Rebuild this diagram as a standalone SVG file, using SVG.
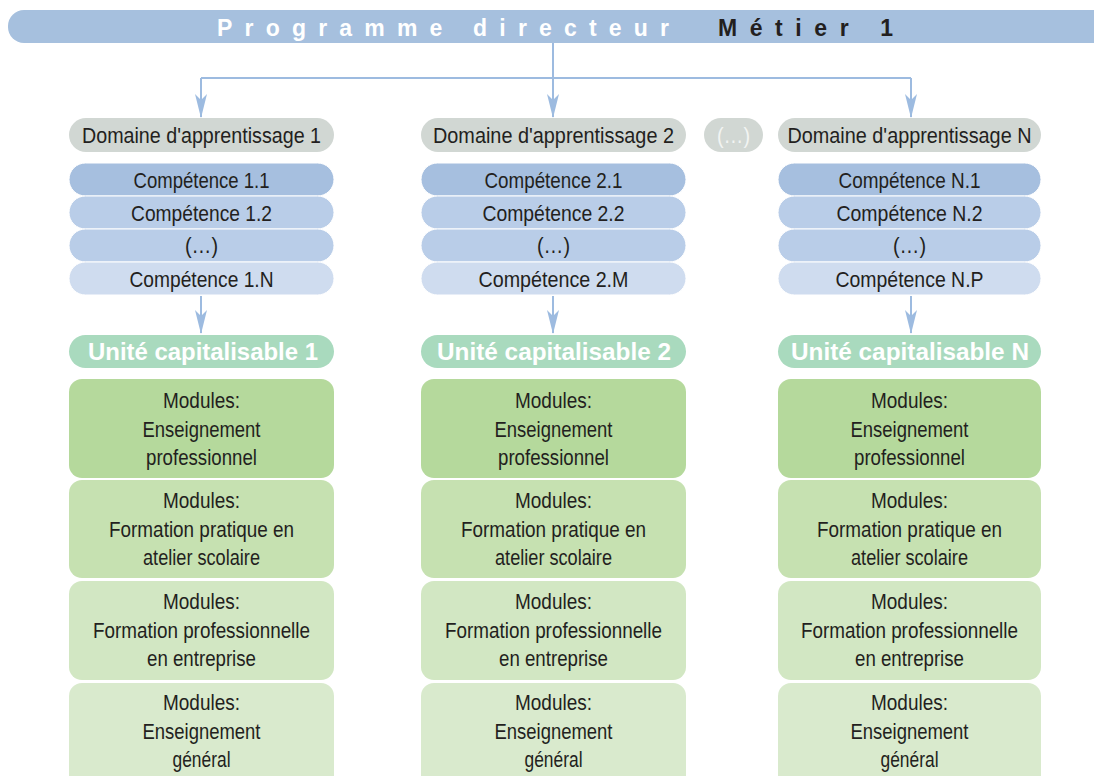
<svg xmlns="http://www.w3.org/2000/svg" width="1094" height="776" viewBox="0 0 1094 776">
<defs>
<style>
text{font-family:"Liberation Sans",sans-serif;fill:#231f20;text-anchor:middle;dominant-baseline:central;font-size:22px}
.dom{fill:#d1d7d3}
.c1{fill:#a6bfdf;stroke:#fff;stroke-width:1}
.c2{fill:#b9cde8;stroke:#fff;stroke-width:1}
.c4{fill:#cfdcef;stroke:#fff;stroke-width:1}
.uc{fill:#a9dabe}
.uct{font-weight:bold;font-size:24px;fill:#fff}
.m1{fill:#b5d99c}
.m2{fill:#c6e1b1}
.m3{fill:#d2e7c3}
.m4{fill:#d9eacd}
.ban{font-weight:bold;font-size:23px;text-anchor:start}
.conn{fill:none;stroke:#9dbbe0;stroke-width:2}
</style>
<marker id="ah" viewBox="0 0 24 12" refX="23" refY="6" markerWidth="24" markerHeight="12" markerUnits="userSpaceOnUse" orient="auto">
<path d="M0,0 L6,6 L0,12 L24,6 Z" fill="#9dbbe0"/>
</marker>
</defs>
<g id="banner">
<rect x="8" y="10" width="1100" height="33" rx="16" fill="#a6c0de"/>
<text class="ban" x="217" y="28" textLength="452" lengthAdjust="spacing" style="fill:#fff">Programme directeur</text>
<text class="ban" x="718" y="28" textLength="175" lengthAdjust="spacing" style="fill:#231f20">Métier 1</text>
</g>
<g id="connectors">
<path class="conn" d="M553,43 V78 M201,78 H911"/>
<path class="conn" d="M201,78 V117" marker-end="url(#ah)"/>
<path class="conn" d="M553,78 V117" marker-end="url(#ah)"/>
<path class="conn" d="M911,78 V117" marker-end="url(#ah)"/>
<path class="conn" d="M201,296 V333" marker-end="url(#ah)"/>
<path class="conn" d="M553,296 V333" marker-end="url(#ah)"/>
<path class="conn" d="M911,296 V333" marker-end="url(#ah)"/>
</g>
<g id="ellipsis-domain">
<rect x="704" y="118" width="59" height="34" rx="17" class="dom"/>
<text x="733.5" y="135" textLength="33" lengthAdjust="spacingAndGlyphs" style="fill:#f2f4f2">(…)</text>
</g>
<g id="col1">
<g id="dom1"><rect x="69" y="118" width="265" height="34" rx="17" class="dom"/><text x="201.5" y="135" textLength="239" lengthAdjust="spacingAndGlyphs">Domaine d'apprentissage 1</text></g>
<g id="c1-1"><rect x="69" y="163" width="265" height="33" rx="16.5" class="c1"/><text x="201.5" y="180" textLength="136" lengthAdjust="spacingAndGlyphs">Compétence 1.1</text></g>
<g id="c1-2"><rect x="69" y="196" width="265" height="33" rx="16.5" class="c2"/><text x="201.5" y="213" textLength="141" lengthAdjust="spacingAndGlyphs">Compétence 1.2</text></g>
<g id="c1-3"><rect x="69" y="229" width="265" height="33" rx="16.5" class="c2"/><text x="201.5" y="245" textLength="33" lengthAdjust="spacingAndGlyphs">(…)</text></g>
<g id="c1-4"><rect x="69" y="262" width="265" height="33" rx="16.5" class="c4"/><text x="201.5" y="279" textLength="144" lengthAdjust="spacingAndGlyphs">Compétence 1.N</text></g>
<g id="uc1"><rect x="69" y="335" width="265" height="33" rx="16.5" class="uc"/><text class="uct" x="203" y="351" textLength="230" lengthAdjust="spacingAndGlyphs">Unité capitalisable 1</text></g>
<g id="m1-1"><rect x="69" y="379" width="265" height="99" rx="13" class="m1"/><text x="201.5" y="400" textLength="77" lengthAdjust="spacingAndGlyphs">Modules:</text><text x="201.5" y="429" textLength="118" lengthAdjust="spacingAndGlyphs">Enseignement</text><text x="201.5" y="457" textLength="111" lengthAdjust="spacingAndGlyphs">professionnel</text></g>
<g id="m1-2"><rect x="69" y="480" width="265" height="98" rx="13" class="m2"/><text x="201.5" y="500" textLength="77" lengthAdjust="spacingAndGlyphs">Modules:</text><text x="201.5" y="529" textLength="185" lengthAdjust="spacingAndGlyphs">Formation pratique en</text><text x="201.5" y="557" textLength="117" lengthAdjust="spacingAndGlyphs">atelier scolaire</text></g>
<g id="m1-3"><rect x="69" y="581" width="265" height="99" rx="13" class="m3"/><text x="201.5" y="601" textLength="77" lengthAdjust="spacingAndGlyphs">Modules:</text><text x="201.5" y="630" textLength="217" lengthAdjust="spacingAndGlyphs">Formation professionnelle</text><text x="201.5" y="658" textLength="109" lengthAdjust="spacingAndGlyphs">en entreprise</text></g>
<g id="m1-4"><rect x="69" y="683" width="265" height="110" rx="13" class="m4"/><text x="201.5" y="702" textLength="77" lengthAdjust="spacingAndGlyphs">Modules:</text><text x="201.5" y="731" textLength="118" lengthAdjust="spacingAndGlyphs">Enseignement</text><text x="201.5" y="759" textLength="58" lengthAdjust="spacingAndGlyphs">général</text></g>
</g>
<g id="col2">
<g id="dom2"><rect x="421" y="118" width="265" height="34" rx="17" class="dom"/><text x="553.5" y="135" textLength="241" lengthAdjust="spacingAndGlyphs">Domaine d'apprentissage 2</text></g>
<g id="c2-1"><rect x="421" y="163" width="265" height="33" rx="16.5" class="c1"/><text x="553.5" y="180" textLength="138" lengthAdjust="spacingAndGlyphs">Compétence 2.1</text></g>
<g id="c2-2"><rect x="421" y="196" width="265" height="33" rx="16.5" class="c2"/><text x="553.5" y="213" textLength="142" lengthAdjust="spacingAndGlyphs">Compétence 2.2</text></g>
<g id="c2-3"><rect x="421" y="229" width="265" height="33" rx="16.5" class="c2"/><text x="553.5" y="245" textLength="33" lengthAdjust="spacingAndGlyphs">(…)</text></g>
<g id="c2-4"><rect x="421" y="262" width="265" height="33" rx="16.5" class="c4"/><text x="553.5" y="279" textLength="150" lengthAdjust="spacingAndGlyphs">Compétence 2.M</text></g>
<g id="uc2"><rect x="421" y="335" width="265" height="33" rx="16.5" class="uc"/><text class="uct" x="554" y="351" textLength="234" lengthAdjust="spacingAndGlyphs">Unité capitalisable 2</text></g>
<g id="m2-1"><rect x="421" y="379" width="265" height="99" rx="13" class="m1"/><text x="553.5" y="400" textLength="77" lengthAdjust="spacingAndGlyphs">Modules:</text><text x="553.5" y="429" textLength="118" lengthAdjust="spacingAndGlyphs">Enseignement</text><text x="553.5" y="457" textLength="111" lengthAdjust="spacingAndGlyphs">professionnel</text></g>
<g id="m2-2"><rect x="421" y="480" width="265" height="98" rx="13" class="m2"/><text x="553.5" y="500" textLength="77" lengthAdjust="spacingAndGlyphs">Modules:</text><text x="553.5" y="529" textLength="185" lengthAdjust="spacingAndGlyphs">Formation pratique en</text><text x="553.5" y="557" textLength="117" lengthAdjust="spacingAndGlyphs">atelier scolaire</text></g>
<g id="m2-3"><rect x="421" y="581" width="265" height="99" rx="13" class="m3"/><text x="553.5" y="601" textLength="77" lengthAdjust="spacingAndGlyphs">Modules:</text><text x="553.5" y="630" textLength="217" lengthAdjust="spacingAndGlyphs">Formation professionnelle</text><text x="553.5" y="658" textLength="109" lengthAdjust="spacingAndGlyphs">en entreprise</text></g>
<g id="m2-4"><rect x="421" y="683" width="265" height="110" rx="13" class="m4"/><text x="553.5" y="702" textLength="77" lengthAdjust="spacingAndGlyphs">Modules:</text><text x="553.5" y="731" textLength="118" lengthAdjust="spacingAndGlyphs">Enseignement</text><text x="553.5" y="759" textLength="58" lengthAdjust="spacingAndGlyphs">général</text></g>
</g>
<g id="col3">
<g id="dom3"><rect x="778" y="118" width="263" height="34" rx="17" class="dom"/><text x="909.5" y="135" textLength="244" lengthAdjust="spacingAndGlyphs">Domaine d'apprentissage N</text></g>
<g id="c3-1"><rect x="778" y="163" width="263" height="33" rx="16.5" class="c1"/><text x="909.5" y="180" textLength="142" lengthAdjust="spacingAndGlyphs">Compétence N.1</text></g>
<g id="c3-2"><rect x="778" y="196" width="263" height="33" rx="16.5" class="c2"/><text x="909.5" y="213" textLength="146" lengthAdjust="spacingAndGlyphs">Compétence N.2</text></g>
<g id="c3-3"><rect x="778" y="229" width="263" height="33" rx="16.5" class="c2"/><text x="909.5" y="245" textLength="33" lengthAdjust="spacingAndGlyphs">(…)</text></g>
<g id="c3-4"><rect x="778" y="262" width="263" height="33" rx="16.5" class="c4"/><text x="909.5" y="279" textLength="148" lengthAdjust="spacingAndGlyphs">Compétence N.P</text></g>
<g id="uc3"><rect x="778" y="335" width="263" height="33" rx="16.5" class="uc"/><text class="uct" x="910" y="351" textLength="238" lengthAdjust="spacingAndGlyphs">Unité capitalisable N</text></g>
<g id="m3-1"><rect x="778" y="379" width="263" height="99" rx="13" class="m1"/><text x="909.5" y="400" textLength="77" lengthAdjust="spacingAndGlyphs">Modules:</text><text x="909.5" y="429" textLength="118" lengthAdjust="spacingAndGlyphs">Enseignement</text><text x="909.5" y="457" textLength="111" lengthAdjust="spacingAndGlyphs">professionnel</text></g>
<g id="m3-2"><rect x="778" y="480" width="263" height="98" rx="13" class="m2"/><text x="909.5" y="500" textLength="77" lengthAdjust="spacingAndGlyphs">Modules:</text><text x="909.5" y="529" textLength="185" lengthAdjust="spacingAndGlyphs">Formation pratique en</text><text x="909.5" y="557" textLength="117" lengthAdjust="spacingAndGlyphs">atelier scolaire</text></g>
<g id="m3-3"><rect x="778" y="581" width="263" height="99" rx="13" class="m3"/><text x="909.5" y="601" textLength="77" lengthAdjust="spacingAndGlyphs">Modules:</text><text x="909.5" y="630" textLength="217" lengthAdjust="spacingAndGlyphs">Formation professionnelle</text><text x="909.5" y="658" textLength="109" lengthAdjust="spacingAndGlyphs">en entreprise</text></g>
<g id="m3-4"><rect x="778" y="683" width="263" height="110" rx="13" class="m4"/><text x="909.5" y="702" textLength="77" lengthAdjust="spacingAndGlyphs">Modules:</text><text x="909.5" y="731" textLength="118" lengthAdjust="spacingAndGlyphs">Enseignement</text><text x="909.5" y="759" textLength="58" lengthAdjust="spacingAndGlyphs">général</text></g>
</g>
</svg>
